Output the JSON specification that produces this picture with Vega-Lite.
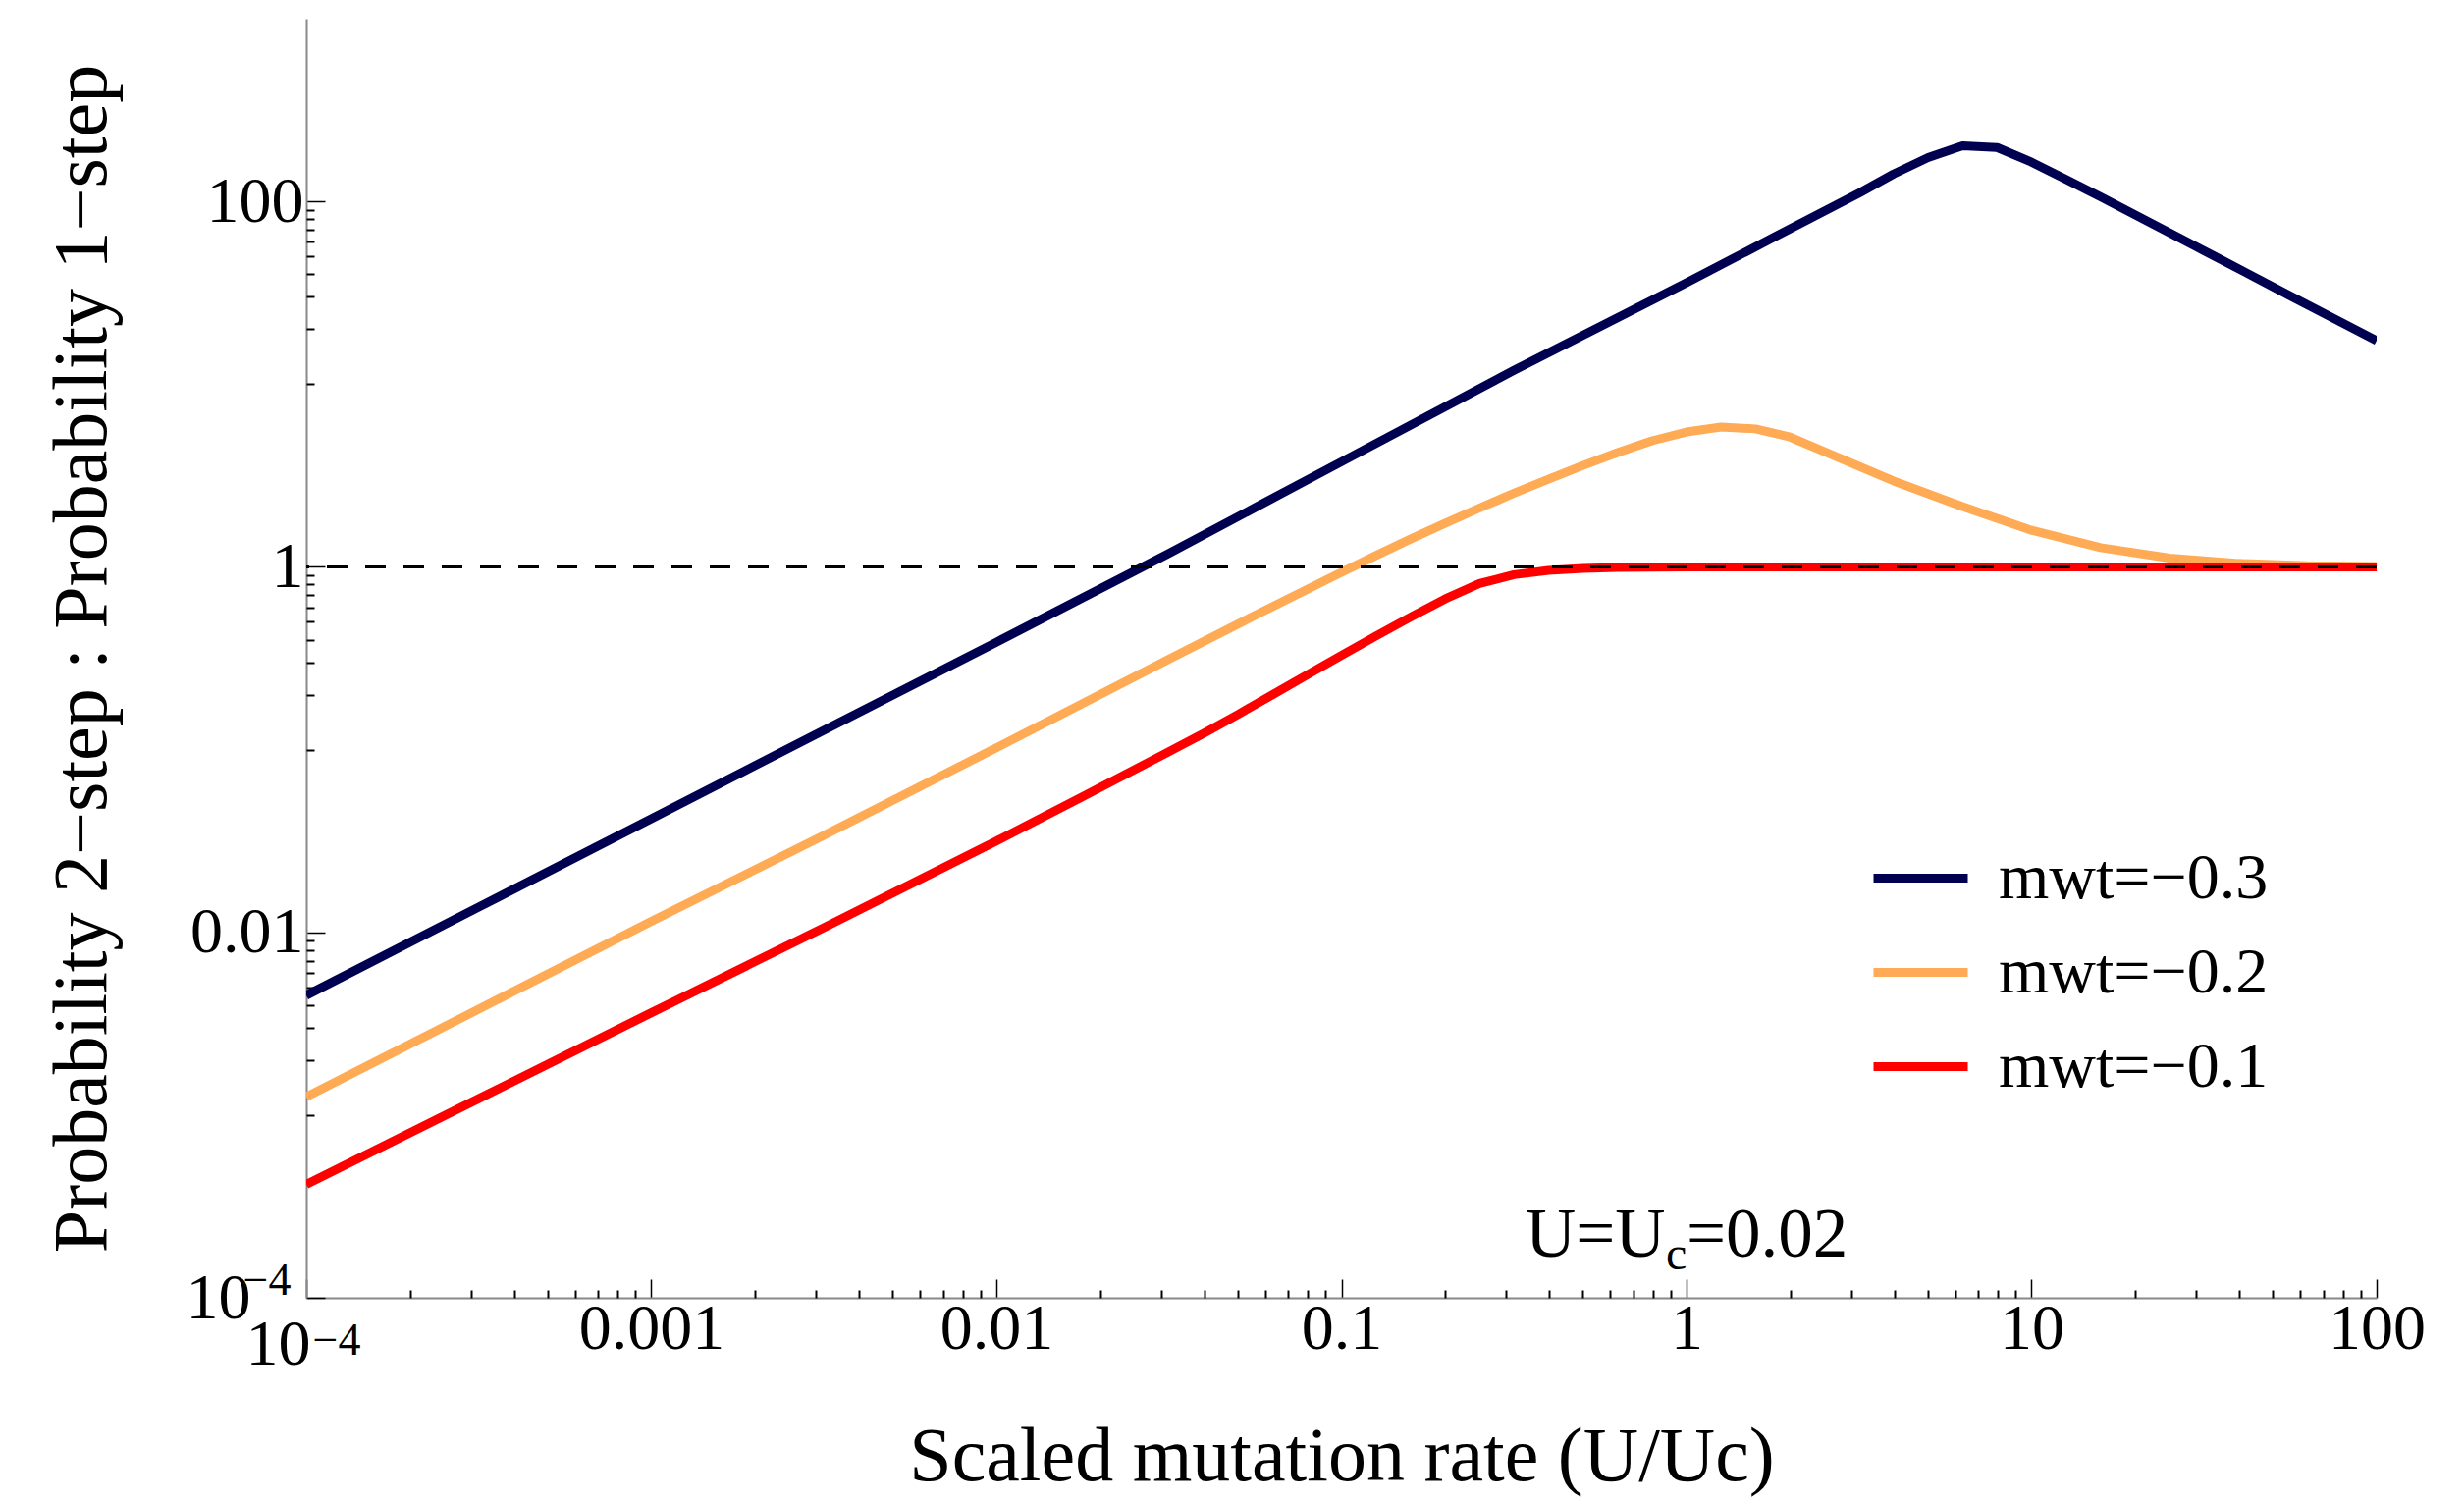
{
  "$schema": "https://vega.github.io/schema/vega-lite/v6.json",
  "width": 2109,
  "height": 1303,
  "autosize": {"type": "none"},
  "padding": {"left": 312, "top": 19, "right": 89, "bottom": 208},
  "background": "white",
  "config": {
    "view": {"stroke": null},
    "font": "Liberation Serif",
    "axis": {"grid": false, "labelFont": "Liberation Serif", "titleFont": "Liberation Serif"}
  },
  "datasets": {
    "curves": [
      {"series": "−0.3", "x": 0.0001, "y": 0.00452},
      {"series": "−0.3", "x": 0.000316, "y": 0.01374},
      {"series": "−0.3", "x": 0.001, "y": 0.0419},
      {"series": "−0.3", "x": 0.00316, "y": 0.1274},
      {"series": "−0.3", "x": 0.01, "y": 0.387},
      {"series": "−0.3", "x": 0.0316, "y": 1.186},
      {"series": "−0.3", "x": 0.1, "y": 3.76},
      {"series": "−0.3", "x": 0.316, "y": 11.9},
      {"series": "−0.3", "x": 1, "y": 35.9},
      {"series": "−0.3", "x": 1.778, "y": 63.1},
      {"series": "−0.3", "x": 3.162, "y": 110.9},
      {"series": "−0.3", "x": 3.981, "y": 141.3},
      {"series": "−0.3", "x": 5.012, "y": 173.8},
      {"series": "−0.3", "x": 6.31, "y": 201.8},
      {"series": "−0.3", "x": 7.943, "y": 197.2},
      {"series": "−0.3", "x": 10, "y": 164},
      {"series": "−0.3", "x": 12.59, "y": 131.8},
      {"series": "−0.3", "x": 15.85, "y": 106},
      {"series": "−0.3", "x": 31.62, "y": 53.7},
      {"series": "−0.3", "x": 56.23, "y": 30.4},
      {"series": "−0.3", "x": 100, "y": 17.3},
      {"series": "−0.2", "x": 0.0001, "y": 0.00126},
      {"series": "−0.2", "x": 0.000316, "y": 0.0038},
      {"series": "−0.2", "x": 0.001, "y": 0.01148},
      {"series": "−0.2", "x": 0.00316, "y": 0.0339},
      {"series": "−0.2", "x": 0.01, "y": 0.1023},
      {"series": "−0.2", "x": 0.0316, "y": 0.3126},
      {"series": "−0.2", "x": 0.0562, "y": 0.543},
      {"series": "−0.2", "x": 0.1, "y": 0.933},
      {"series": "−0.2", "x": 0.1259, "y": 1.153},
      {"series": "−0.2", "x": 0.1585, "y": 1.419},
      {"series": "−0.2", "x": 0.1995, "y": 1.73},
      {"series": "−0.2", "x": 0.2512, "y": 2.099},
      {"series": "−0.2", "x": 0.3162, "y": 2.529},
      {"series": "−0.2", "x": 0.3981, "y": 3.02},
      {"series": "−0.2", "x": 0.5012, "y": 3.589},
      {"series": "−0.2", "x": 0.631, "y": 4.217},
      {"series": "−0.2", "x": 0.794, "y": 4.898},
      {"series": "−0.2", "x": 1, "y": 5.47},
      {"series": "−0.2", "x": 1.259, "y": 5.82},
      {"series": "−0.2", "x": 1.585, "y": 5.69},
      {"series": "−0.2", "x": 1.995, "y": 5.13},
      {"series": "−0.2", "x": 2.512, "y": 4.27},
      {"series": "−0.2", "x": 3.981, "y": 2.95},
      {"series": "−0.2", "x": 6.31, "y": 2.138},
      {"series": "−0.2", "x": 10, "y": 1.585},
      {"series": "−0.2", "x": 15.85, "y": 1.274},
      {"series": "−0.2", "x": 25.12, "y": 1.117},
      {"series": "−0.2", "x": 39.81, "y": 1.045},
      {"series": "−0.2", "x": 63.1, "y": 1.014},
      {"series": "−0.2", "x": 100, "y": 1.005},
      {"series": "−0.1", "x": 0.0001, "y": 0.000417},
      {"series": "−0.1", "x": 0.000316, "y": 0.00123},
      {"series": "−0.1", "x": 0.001, "y": 0.00363},
      {"series": "−0.1", "x": 0.00316, "y": 0.01059},
      {"series": "−0.1", "x": 0.01, "y": 0.0316},
      {"series": "−0.1", "x": 0.01778, "y": 0.0552},
      {"series": "−0.1", "x": 0.0316, "y": 0.0973},
      {"series": "−0.1", "x": 0.0398, "y": 0.1225},
      {"series": "−0.1", "x": 0.0501, "y": 0.1556},
      {"series": "−0.1", "x": 0.0631, "y": 0.1995},
      {"series": "−0.1", "x": 0.0794, "y": 0.256},
      {"series": "−0.1", "x": 0.1, "y": 0.328},
      {"series": "−0.1", "x": 0.1259, "y": 0.418},
      {"series": "−0.1", "x": 0.1585, "y": 0.531},
      {"series": "−0.1", "x": 0.1995, "y": 0.667},
      {"series": "−0.1", "x": 0.2512, "y": 0.81},
      {"series": "−0.1", "x": 0.3162, "y": 0.906},
      {"series": "−0.1", "x": 0.3981, "y": 0.957},
      {"series": "−0.1", "x": 0.5012, "y": 0.982},
      {"series": "−0.1", "x": 0.631, "y": 0.993},
      {"series": "−0.1", "x": 1, "y": 0.998},
      {"series": "−0.1", "x": 3.162, "y": 1.0},
      {"series": "−0.1", "x": 10, "y": 1.0},
      {"series": "−0.1", "x": 31.62, "y": 1.0},
      {"series": "−0.1", "x": 100, "y": 1.0}
    ]
  },
  "data": {"name": "curves"},
  "layer": [
    {
      "mark": {"type": "line", "strokeWidth": 9, "strokeJoin": "round", "clip": true},
      "encoding": {
        "x": {
          "field": "x", "type": "quantitative",
          "scale": {"type": "log", "domain": [0.0001, 100], "nice": false},
          "axis": {
            "orient": "bottom",
            "values": [0.0001, 0.001, 0.01, 0.1, 1, 10, 100],
            "tickSize": -19, "tickColor": "black", "tickWidth": 1.5,
            "domainColor": "#888888", "domainWidth": 2,
            "labelFontSize": 66, "labelColor": "black",
            "labelPadding": {"condition": {"test": "datum.value < 0.0002", "value": 34}, "value": 18},
            "labelAlign": {"condition": {"test": "datum.value < 0.0002", "value": "right"}, "value": "center"},
            "labelOffset": {"condition": {"test": "datum.value < 0.0002", "value": 4}, "value": 0},
            "labelFlush": false, "labelOverlap": false,
            "labelExpr": "datum.value < 0.0002 ? '10' : format(datum.value, '~g')",
            "title": "Scaled mutation rate (U/Uc)",
            "titleFontSize": 78, "titleFontWeight": "normal", "titleColor": "black", "titlePadding": 43
          }
        },
        "y": {
          "field": "y", "type": "quantitative",
          "scale": {"type": "log", "domain": [0.0001, 1000], "nice": false},
          "axis": {
            "orient": "left",
            "values": [0.0001, 0.01, 1, 100],
            "tickSize": -19, "tickColor": "black", "tickWidth": 1.5,
            "domainColor": "#888888", "domainWidth": 2,
            "labelFontSize": 66, "labelColor": "black",
            "labelPadding": {"condition": {"test": "datum.value < 0.0002", "value": 76}, "value": 22},
            "labelFlush": false, "labelOverlap": false,
            "labelExpr": "datum.value < 0.0002 ? '10' : format(datum.value, '~g')",
            "title": "Probability 2−step : Probability 1−step",
            "titleFontSize": 78, "titleFontWeight": "normal", "titleColor": "black", "titlePadding": 66
          }
        },
        "color": {
          "field": "series", "type": "nominal",
          "scale": {"domain": ["−0.3", "−0.2", "−0.1"], "range": ["#000050", "#FFAA55", "#FF0000"]},
          "legend": {
            "orient": "none", "legendX": 1592, "legendY": 823,
            "title": null, "padding": 0,
            "symbolType": "stroke", "symbolSize": 9216, "symbolStrokeWidth": 9,
            "labelFontSize": 66, "labelFont": "Liberation Serif", "labelColor": "black",
            "labelOffset": 27, "rowPadding": 10, "labelLimit": 600,
            "labelExpr": "'mwt=' + datum.label"
          }
        }
      }
    },
    {
      "mark": {"type": "point", "opacity": 0},
      "encoding": {
        "x": {
          "field": "x", "type": "quantitative",
          "axis": {
            "orient": "bottom",
            "values": [0.0002, 0.0003, 0.0004, 0.0005, 0.0006, 0.0007, 0.0008, 0.0009,
                       0.002, 0.003, 0.004, 0.005, 0.006, 0.007, 0.008, 0.009,
                       0.02, 0.03, 0.04, 0.05, 0.06, 0.07, 0.08, 0.09,
                       0.2, 0.3, 0.4, 0.5, 0.6, 0.7, 0.8, 0.9,
                       2, 3, 4, 5, 6, 7, 8, 9,
                       20, 30, 40, 50, 60, 70, 80, 90],
            "tickSize": -8, "tickColor": "black", "tickWidth": 2,
            "domain": false, "labels": false, "title": null
          }
        },
        "y": {
          "field": "y", "type": "quantitative",
          "axis": {
            "orient": "left",
            "values": [0.001, 0.002, 0.003, 0.004, 0.005, 0.006, 0.007, 0.008, 0.009,
                       0.1, 0.2, 0.3, 0.4, 0.5, 0.6, 0.7, 0.8, 0.9,
                       10, 20, 30, 40, 50, 60, 70, 80, 90],
            "tickSize": -8, "tickColor": "black", "tickWidth": 2,
            "domain": false, "labels": false, "title": null
          }
        }
      }
    },
    {
      "mark": {"type": "point", "opacity": 0},
      "encoding": {
        "x": {
          "field": "x", "type": "quantitative",
          "axis": {
            "orient": "bottom",
            "values": [0.0001],
            "ticks": false, "domain": false, "title": null,
            "labelExpr": "'−4'", "labelFontSize": 46, "labelColor": "black",
            "labelAlign": "left", "labelOffset": 6, "labelPadding": 21,
            "labelFlush": false, "labelOverlap": false
          }
        },
        "y": {
          "field": "y", "type": "quantitative",
          "axis": {
            "orient": "left",
            "values": [0.0001],
            "ticks": false, "domain": false, "title": null,
            "labelExpr": "'−4'", "labelFontSize": 46, "labelColor": "black",
            "labelPadding": 16, "labelOffset": -18,
            "labelFlush": false, "labelOverlap": false
          }
        }
      }
    },
    {
      "data": {"values": [{}]},
      "mark": {"type": "rule", "strokeDash": [21, 18], "strokeWidth": 3, "color": "black"},
      "encoding": {"y": {"datum": 1, "type": "quantitative", "axis": null}}
    },
    {
      "data": {"values": [{}]},
      "mark": {"type": "text", "text": "U=U", "align": "left", "baseline": "alphabetic", "fontSize": 71, "font": "Liberation Serif", "color": "black", "dx": -164},
      "encoding": {
        "x": {"datum": 1, "type": "quantitative", "axis": null},
        "y": {"datum": 0.000168, "type": "quantitative", "axis": null}
      }
    },
    {
      "data": {"values": [{}]},
      "mark": {"type": "text", "text": "c", "align": "left", "baseline": "alphabetic", "fontSize": 48, "font": "Liberation Serif", "color": "black", "dx": -21, "dy": 13},
      "encoding": {
        "x": {"datum": 1, "type": "quantitative", "axis": null},
        "y": {"datum": 0.000168, "type": "quantitative", "axis": null}
      }
    },
    {
      "data": {"values": [{}]},
      "mark": {"type": "text", "text": "=0.02", "align": "left", "baseline": "alphabetic", "fontSize": 71, "font": "Liberation Serif", "color": "black", "dx": 0},
      "encoding": {
        "x": {"datum": 1, "type": "quantitative", "axis": null},
        "y": {"datum": 0.000168, "type": "quantitative", "axis": null}
      }
    }
  ],
  "resolve": {"axis": {"x": "independent", "y": "independent"}}
}
